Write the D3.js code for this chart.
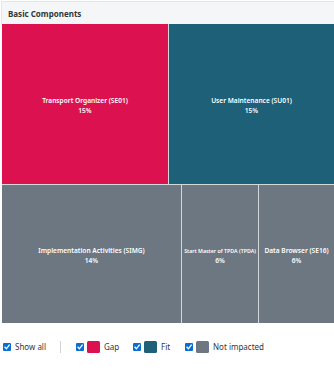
<!DOCTYPE html>
<html>
<head>
<meta charset="utf-8">
<script src="https://cdn.jsdelivr.net/npm/d3@7"></script>
<style>
  html, body { margin: 0; padding: 0; background: #ffffff; }
  svg { display: block; font-family: "Noto Sans", "Open Sans", sans-serif; }
</style>
</head>
<body>
<svg id="chart" width="334" height="368"></svg>
<script>
// Component names, their share of usage and fit status
const categories = [
  "Transport Organizer (SE01)",
  "User Maintenance (SU01)",
  "Implementation Activities (SIMG)",
  "Start Master of TPDA (TPDA)",
  "Data Browser (SE16)"
];
const shares = [15, 15, 14, 6, 6];
const statuses = ["Gap", "Fit", "Not impacted", "Not impacted", "Not impacted"];
const rowIndex = [0, 0, 1, 1, 1];

// Legend entries
const legendLabels = ["Gap", "Fit", "Not impacted"];
const legendColors = ["#dc1250", "#1d6078", "#6c7782"];
const showAllLabel = "Show all";
const title = "Basic Components";

const svg = d3.select("#chart");
const W = 334, H = 368;
const areaX = 2, areaY = 24, areaW = W - 1, areaH = 299;
const labelSize = 6.6;

const color = d3.scaleOrdinal().domain(legendLabels).range(legendColors);

// Header band
svg.append("rect").attr("x", 0).attr("y", 0).attr("width", W).attr("height", H).attr("fill", "#ffffff");
svg.append("rect").attr("x", 1.5).attr("y", 1.5).attr("width", W).attr("height", 23)
  .attr("fill", "#f5f6f7").attr("stroke", "#e4e6e8").attr("stroke-width", 1);
svg.append("text").attr("x", 8).attr("y", 16.5)
  .attr("font-size", 8).attr("font-weight", 700).attr("fill", "#32363a")
  .text(title);

// Build hierarchy: rows of tiles
const rows = d3.groups(categories.map((c, i) => ({
  name: c, value: shares[i], status: statuses[i], row: rowIndex[i]
})), d => d.row).map(([r, items]) => ({ name: "row" + r, children: items }));

const root = d3.hierarchy({ name: "root", children: rows })
  .sum(d => d.children ? 0 : d.value);

// Rows stacked top to bottom, tiles laid side by side within each row
function rowTile(node, x0, y0, x1, y1) {
  if (node.depth === 0) d3.treemapSlice(node, x0, y0, x1, y1);
  else d3.treemapDice(node, x0, y0, x1, y1);
}

d3.treemap()
  .tile(rowTile)
  .size([areaW, areaH])
  .paddingInner(1)
  .round(true)(root);

const area = svg.append("g").attr("transform", `translate(${areaX},${areaY})`);
area.append("rect").attr("x", 0).attr("y", 0).attr("width", areaW).attr("height", areaH).attr("fill", "#d3d8dc");

const visibleW = W - areaX;
const leaves = area.selectAll("g.tile").data(root.leaves()).join("g").attr("class", "tile");
leaves.append("rect")
  .attr("x", d => d.x0).attr("y", d => d.y0)
  .attr("width", d => d.x1 - d.x0).attr("height", d => d.y1 - d.y0)
  .attr("fill", d => color(d.data.status));

const cx = d => (d.x0 + Math.min(d.x1, visibleW)) / 2;
const cy = d => (d.y0 + d.y1) / 2;

leaves.append("text")
  .attr("class", "name")
  .attr("x", cx)
  .attr("y", d => cy(d) - 1)
  .attr("text-anchor", "middle")
  .attr("font-size", labelSize).attr("font-weight", 600).attr("fill", "#ffffff")
  .text(d => d.data.name);
leaves.append("text")
  .attr("x", cx)
  .attr("y", d => cy(d) + 9)
  .attr("text-anchor", "middle")
  .attr("font-size", labelSize).attr("font-weight", 600).attr("fill", "#ffffff")
  .text(d => d.data.value + "%");

// Shrink names that do not fit inside their tile
leaves.select("text.name").each(function (d) {
  const room = Math.min(d.x1, visibleW) - d.x0 - 4;
  const len = this.getComputedTextLength();
  if (len > room) d3.select(this).attr("font-size", labelSize * room / len);
});

// Legend
const legend = svg.append("g").attr("transform", "translate(0,347)");
function checkbox(g, x) {
  g.append("rect").attr("x", x).attr("y", -4).attr("width", 8).attr("height", 8)
    .attr("rx", 1).attr("fill", "#0a6ed1");
  g.append("path")
    .attr("d", `M${x + 1.6},${-0.2} L${x + 3.4},${1.8} L${x + 6.6},${-2.4}`)
    .attr("fill", "none").attr("stroke", "#ffffff").attr("stroke-width", 1.3);
}
checkbox(legend, 3);
legend.append("text").attr("x", 15).attr("y", 3).attr("font-size", 8).attr("fill", "#32363a").text(showAllLabel);
legend.append("line").attr("x1", 60.5).attr("x2", 60.5).attr("y1", -6).attr("y2", 6)
  .attr("stroke", "#d0d4d8").attr("stroke-width", 1);

const itemX = [76, 133, 185];
legendLabels.forEach((lab, i) => {
  const x = itemX[i];
  checkbox(legend, x);
  legend.append("rect").attr("x", x + 11).attr("y", -6).attr("width", 13).attr("height", 12)
    .attr("rx", 1.5).attr("fill", color(lab));
  legend.append("text").attr("x", x + 28).attr("y", 3).attr("font-size", 8)
    .attr("fill", "#32363a").text(lab);
});
</script>
</body>
</html>
